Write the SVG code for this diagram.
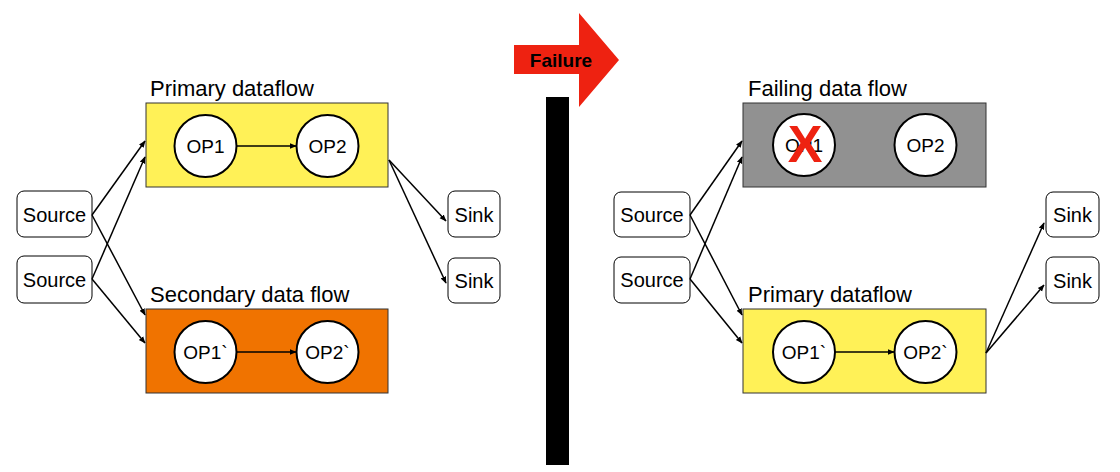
<svg xmlns="http://www.w3.org/2000/svg" width="1120" height="472" viewBox="0 0 1120 472">
<style>
text{font-family:"Liberation Sans",Arial,sans-serif;fill:#000}
.title{font-size:22px}
.lbl{font-size:19px;text-anchor:middle}
.io{font-size:20px;text-anchor:middle}
.op{fill:#fff;stroke:#000;stroke-width:2}
.box{fill:#fff;stroke:#000;stroke-width:1}
.grp{stroke:#333;stroke-width:1}
.edge{fill:none;stroke:#000;stroke-width:1.5;marker-end:url(#ah)}
</style>
<defs>
<marker id="ah" viewBox="0 0 10 10" refX="9" refY="5" markerWidth="7" markerHeight="7" orient="auto" markerUnits="userSpaceOnUse">
<path d="M0,1 L10,5 L0,9 z" fill="#000"/>
</marker>
</defs>
<rect width="1120" height="472" fill="#fff"/>

<!-- Failure arrow and barrier -->
<g id="failure">
<polygon points="514,45 579,45 579,13 619,60 579,107 579,74 514,74" fill="#ee2211"/>
<text x="561" y="67" font-size="19" font-weight="bold" text-anchor="middle">Failure</text>
</g>
<g id="barrier"><rect x="546" y="97" width="23" height="368" fill="#000"/></g>

<!-- LEFT -->
<g id="l-primary">
<rect class="grp" x="146" y="103" width="242" height="84" fill="#fff157"/>
<text class="title" x="150" y="96">Primary dataflow</text>
</g>
<g id="l-op1"><circle class="op" cx="205.5" cy="146" r="31"/><text class="lbl" x="205.5" y="153">OP1</text></g>
<g id="l-op2"><circle class="op" cx="327.5" cy="146" r="31"/><text class="lbl" x="327.5" y="153">OP2</text></g>
<g id="l-secondary">
<rect class="grp" x="146" y="309" width="242" height="84" fill="#f07300"/>
<text class="title" x="150" y="302">Secondary data flow</text>
</g>
<g id="l-op1b"><circle class="op" cx="205.5" cy="352" r="31"/><text class="lbl" x="205.5" y="359">OP1`</text></g>
<g id="l-op2b"><circle class="op" cx="327.5" cy="352" r="31"/><text class="lbl" x="327.5" y="359">OP2`</text></g>
<g id="l-src1"><rect class="box" x="17" y="191" width="75" height="46" rx="7"/><text class="io" x="54.5" y="222">Source</text></g>
<g id="l-src2"><rect class="box" x="17" y="256" width="75" height="47" rx="7"/><text class="io" x="54.5" y="287">Source</text></g>
<g id="l-sink1"><rect class="box" x="448" y="191" width="52" height="46" rx="7"/><text class="io" x="474" y="222">Sink</text></g>
<g id="l-sink2"><rect class="box" x="448" y="258" width="52" height="45" rx="7"/><text class="io" x="474" y="288">Sink</text></g>

<!-- RIGHT -->
<g id="r-failing">
<rect class="grp" x="743" y="103" width="243" height="84" fill="#919191"/>
<text class="title" x="748" y="96">Failing data flow</text>
</g>
<g id="r-op1"><circle class="op" cx="804" cy="145" r="31"/><text class="lbl" x="804" y="152">OP1</text>
<text x="805" y="162" font-size="52" font-weight="bold" text-anchor="middle" style="fill:#ee2211">X</text></g>
<g id="r-op2"><circle class="op" cx="925.5" cy="145" r="31"/><text class="lbl" x="925.5" y="152">OP2</text></g>
<g id="r-primary">
<rect class="grp" x="743" y="309" width="243" height="84" fill="#fff157"/>
<text class="title" x="748" y="302">Primary dataflow</text>
</g>
<g id="r-op1b"><circle class="op" cx="804" cy="352" r="31"/><text class="lbl" x="804" y="359">OP1`</text></g>
<g id="r-op2b"><circle class="op" cx="925.5" cy="352" r="31"/><text class="lbl" x="925.5" y="359">OP2`</text></g>
<g id="r-src1"><rect class="box" x="614" y="192" width="76" height="45" rx="7"/><text class="io" x="652" y="222">Source</text></g>
<g id="r-src2"><rect class="box" x="614" y="257" width="76" height="46" rx="7"/><text class="io" x="652" y="287">Source</text></g>
<g id="r-sink1"><rect class="box" x="1046" y="192" width="53" height="45" rx="7"/><text class="io" x="1072.5" y="222">Sink</text></g>
<g id="r-sink2"><rect class="box" x="1046" y="257" width="53" height="46" rx="7"/><text class="io" x="1072.5" y="288">Sink</text></g>

<g id="connectors">
<path class="edge" d="M237,146 L296,146"/>
<path class="edge" d="M237,352 L296,352"/>
<path class="edge" d="M92,215 L145,141"/>
<path class="edge" d="M92,215 L145,315"/>
<path class="edge" d="M92,279 L145,157"/>
<path class="edge" d="M92,279 L145,343"/>
<path class="edge" d="M389,160 L446,221"/>
<path class="edge" d="M389,160 L446,283"/>

<path class="edge" d="M835,352 L894,352"/>
<path class="edge" d="M690,215 L742,141"/>
<path class="edge" d="M690,215 L742,315"/>
<path class="edge" d="M690,279 L742,157"/>
<path class="edge" d="M690,279 L742,343"/>
<path class="edge" d="M986,353 L1044,223"/>
<path class="edge" d="M986,353 L1044,285"/>
</g>
</svg>
